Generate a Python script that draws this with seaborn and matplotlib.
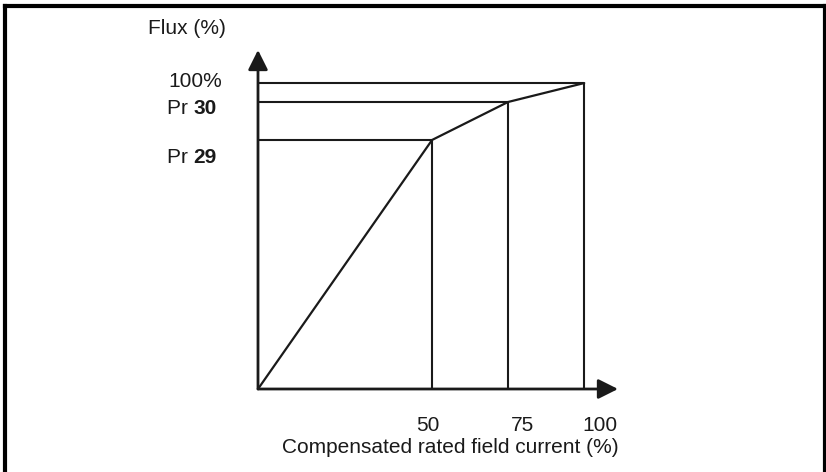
import matplotlib
matplotlib.use("Agg")
import matplotlib.pyplot as plt
from matplotlib.lines import Line2D
import seaborn as sns
import pandas as pd

# ---- data (schematic) ----
current_pos = [0, 50, 71.8, 93.7]        # positions along the current axis
flux = [0, 81.4, 93.8, 100]              # flux levels (0, Pr 29, Pr 30, 100%)
x_tick_labels = ["50", "75", "100"]
y_labels = ["100%", "Pr ", "Pr "]
y_bold = ["", "30", "29"]
x_title = "Compensated rated field current (%)"
y_title = "Flux (%)"

sns.set_style("white")
plt.rcParams['font.family'] = ['Liberation Sans', 'DejaVu Sans']

INK = "#1a1a1a"
W, H = 826, 472
fig = plt.figure(figsize=(W / 100, H / 100), dpi=100)

def fx(px):
    return px / W

def fy(py):
    return 1 - py / H

# axes positioned so origin sits at pixel (258, 389)
ax = fig.add_axes([fx(258), fy(389), 360 / W, 339 / H])
ax.set_xlim(0, 103.4)
ax.set_ylim(0, 110.8)
ax.axis("off")

df = pd.DataFrame({"current": current_pos, "flux": flux})
sns.lineplot(data=df, x="current", y="flux", color=INK, lw=1.6, ax=ax,
             clip_on=False, legend=False)

# guide lines for each break point
for xp, yp in zip(current_pos[1:], flux[1:]):
    ax.plot([0, xp], [yp, yp], color=INK, lw=1.5, clip_on=False, solid_capstyle="butt")
    ax.plot([xp, xp], [0, yp], color=INK, lw=1.5, clip_on=False, solid_capstyle="butt")

# axes with arrowheads
arrow = dict(arrowstyle="-|>,head_length=0.6,head_width=0.3", lw=2.0,
             color=INK, shrinkA=0, shrinkB=0, mutation_scale=20)
ax.annotate("", xy=(0, 110.8), xytext=(0, 0), arrowprops=arrow, annotation_clip=False)
ax.annotate("", xy=(103.4, 0), xytext=(0, 0), arrowprops=arrow, annotation_clip=False)

fs = 15
# y labels
fig.text(fx(148), fy(34.5), y_title, fontsize=fs, va="baseline", ha="left", color=INK)
fig.text(fx(168), fy(86.7), y_labels[0], fontsize=fs, va="baseline", ha="left", color=INK)
for lab, b, base in zip(y_labels[1:], y_bold[1:], [114, 162.7]):
    t = fig.text(fx(167), fy(base), lab, fontsize=fs, va="baseline", ha="left", color=INK)
    fig.canvas.draw()
    bb = t.get_window_extent()
    fig.text(bb.x1 / W, fy(base), b, fontsize=fs, fontweight="bold", va="baseline",
             ha="left", color=INK)

# x labels
for lab, cx in zip(x_tick_labels, [428, 522, 600]):
    fig.text(fx(cx), fy(430.7), lab, fontsize=fs, va="baseline", ha="center", color=INK)
fig.text(fx(450), fy(453), x_title, fontsize=fs, va="baseline", ha="center", color=INK)

# frame around the figure (left, top, right)
for xs, ys in [([fx(5), fx(5)], [0, fy(6)]),
               ([fx(5), fx(824.5)], [fy(6), fy(6)]),
               ([fx(824.5), fx(824.5)], [fy(6), 0])]:
    fig.add_artist(Line2D(xs, ys, color="black", lw=3, transform=fig.transFigure,
                          solid_capstyle="projecting"))

fig.savefig("out.png", dpi=100)
